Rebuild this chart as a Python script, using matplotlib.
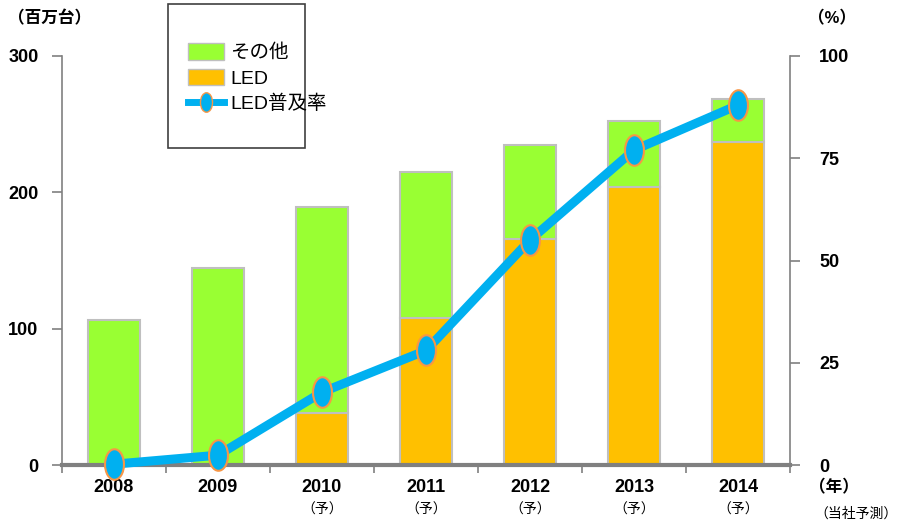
import matplotlib
matplotlib.use("Agg")
import matplotlib.pyplot as plt
import numpy as np
from matplotlib.path import Path
from matplotlib.patches import Rectangle, Patch
from matplotlib.lines import Line2D

plt.rcParams['font.family'] = ['Liberation Sans', 'Noto Sans CJK JP', 'DejaVu Sans']

years = ['2008', '2009', '2010', '2011', '2012', '2013', '2014']
forecast = ['', '', '（予）', '（予）', '（予）', '（予）', '（予）']
total = [106, 144.5, 189, 215, 235, 252, 268.5]
led = [0, 0, 38, 108, 166, 204, 237]
led_rate = [0.2, 2.4, 17.8, 28, 55, 77, 88]

other = [t - l for t, l in zip(total, led)]

green = '#99FF33'
orange = '#FFC000'
blue = '#00B0F0'
edge = '#BFBFBF'

# tall ellipse marker
circ = Path.unit_circle()
ell = Path(circ.vertices * np.array([0.62, 1.0]), circ.codes)

fig = plt.figure(figsize=(9.02, 5.25), dpi=100)
ax = fig.add_axes([62 / 902, 60 / 525, 728 / 902, 409 / 525])
ax2 = ax.twinx()

x = np.arange(len(years))
ax.bar(x, led, width=0.5, color=orange, edgecolor=edge, linewidth=1.5, zorder=2)
ax.bar(x, other, bottom=led, width=0.5, color=green, edgecolor=edge, linewidth=1.5, zorder=2)

ax2.plot(x, led_rate, color=blue, linewidth=6.5, marker=ell, markersize=22,
         markerfacecolor=blue, markeredgecolor='#F79646', markeredgewidth=1.5,
         solid_capstyle='butt', zorder=5, clip_on=False)

ax.set_xlim(-0.5, 6.5)
ax.set_ylim(0, 300)
ax2.set_ylim(0, 100)

ax.set_yticks([0, 100, 200, 300])
ax.set_yticklabels(['0', '100', '200', '300'], fontsize=13, fontweight='bold')
ax2.set_yticks([0, 25, 50, 75, 100])
ax2.set_yticklabels(['0', '25', '50', '75', '100'], fontsize=13, fontweight='bold')

ax.set_xticks(np.arange(-0.5, 7, 1))
ax.set_xticklabels([])
ax.set_xticks(x, minor=True)
ax.set_xticklabels(years, minor=True, fontsize=13, fontweight='bold')
ax.tick_params(axis='x', which='minor', length=0, pad=10)
ax.tick_params(axis='x', which='major', length=6, color='#808080', width=1.2)
ax.tick_params(axis='y', length=7, color='#808080', width=1.2, pad=10)
ax2.tick_params(axis='y', length=7, color='#808080', width=1.2, pad=14)

for s in ['top']:
    ax.spines[s].set_visible(False)
    ax2.spines[s].set_visible(False)
ax.spines['right'].set_visible(False)
ax2.spines['left'].set_visible(False)
ax2.spines['bottom'].set_visible(False)
ax.spines['left'].set_color('#808080')
ax.spines['left'].set_linewidth(1.2)
ax2.spines['right'].set_color('#808080')
ax2.spines['right'].set_linewidth(1.2)
ax.spines['bottom'].set_color('#808080')
ax.spines['bottom'].set_linewidth(3)

for i, f in enumerate(forecast):
    if f:
        ax.text(x[i], -0.11, f, transform=ax.get_xaxis_transform(), ha='center',
                va='center', fontsize=10)

fig.text(8 / 902, 1 - 18 / 525, '（百万台）', fontsize=12, fontweight='bold', va='center')
fig.text(832 / 902, 1 - 18 / 525, '（%）', fontsize=12, fontweight='bold', va='center', ha='center')
fig.text(834 / 902, 1 - 487 / 525, '（年）', fontsize=12, fontweight='bold', va='center', ha='center')
fig.text(898 / 902, 1 - 514 / 525, '（当社予測）', fontsize=10, va='center', ha='right')

# legend box
fig.patches.append(Rectangle((168 / 902, 1 - 148 / 525), 137 / 902, 144 / 525,
                             transform=fig.transFigure, facecolor='white',
                             edgecolor='#404040', linewidth=1.2, zorder=10))
handles = [Patch(facecolor=green, edgecolor=edge),
           Patch(facecolor=orange, edgecolor=edge),
           Line2D([], [], color=blue, linewidth=5, marker=ell, markersize=14,
                  markerfacecolor=blue, markeredgecolor='#F79646')]
leg = fig.legend(handles, ['その他', 'LED', 'LED普及率'], loc='upper left',
                 bbox_to_anchor=(170 / 902, 1 - 26 / 525), frameon=False,
                 fontsize=14, handlelength=1.9, handleheight=0.9,
                 handletextpad=0.3, labelspacing=0.35)
leg.set_zorder(11)

fig.savefig('out.png', dpi=100)
